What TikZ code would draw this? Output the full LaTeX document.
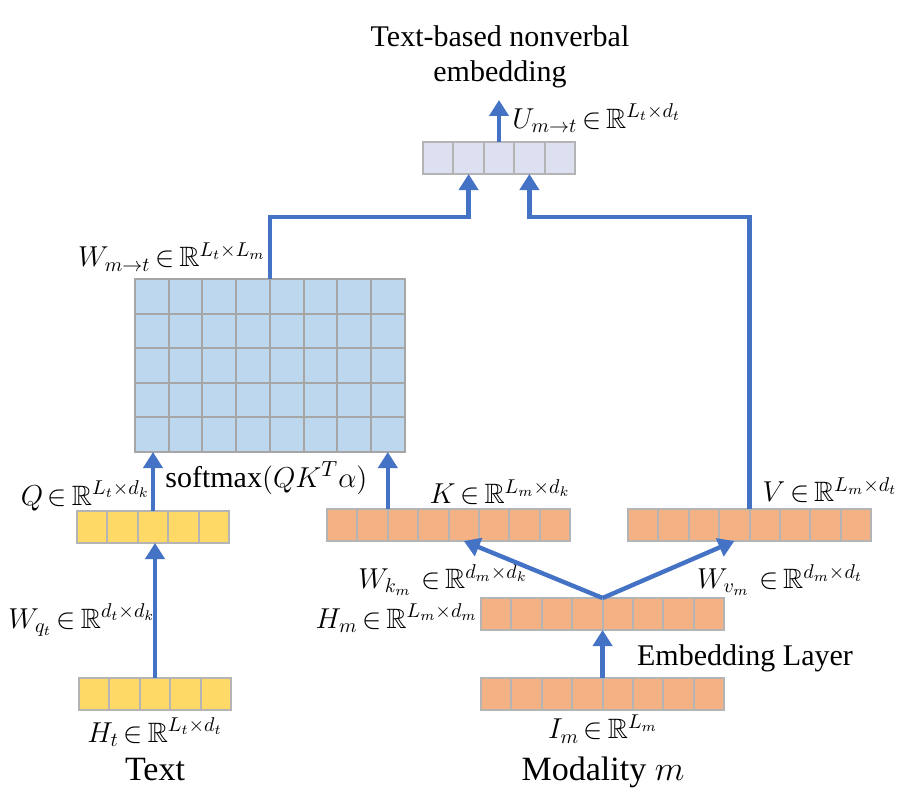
\documentclass[tikz,border=0pt]{standalone}
\usepackage{amsmath,amssymb}
\usepackage{fontspec}
\setmainfont{Liberation Serif}
\usetikzlibrary{arrows.meta,positioning}

\definecolor{flowblue}{RGB}{68,114,196}
\definecolor{qyellow}{RGB}{255,217,102}
\definecolor{korange}{RGB}{244,177,131}
\definecolor{attblue}{RGB}{189,215,238}
\definecolor{ulav}{RGB}{220,224,240}
\definecolor{cellgray}{RGB}{180,180,180}
\AtBeginDocument{\thickmuskip=3mu plus 1mu\relax}

\begin{document}
\begin{tikzpicture}[x=0.5pt, y=-0.5pt,
	cell/.style={draw=cellgray, line width=1pt, minimum width=15.2pt, minimum height=16pt, inner sep=0pt, outer sep=0pt},
	mcell/.style={cell, fill=attblue, minimum width=16.9pt, minimum height=17.3pt, draw=gray!70},
	flow/.style={draw=flowblue, line width=2.2pt, -{Triangle[length=8pt,width=9.5pt]}},
	lbl/.style={font=\fontsize{15}{17.5}\selectfont, inner sep=0pt},
	mlbl/.style={font=\fontsize{14}{17}\selectfont, inner sep=0pt},
	big/.style={font=\fontsize{17}{20}\selectfont, inner sep=0pt}]
	\path[fill=white, use as bounding box] (0,0) rectangle (899,797);

	% rows of cells
	\foreach \i in {1,...,5} {
		\node[cell, fill=ulav] (u\i) at ({423+(\i-0.5)*30.4}, 158) {};
		\node[cell, fill=qyellow] (q\i) at ({77+(\i-0.5)*30.4}, 527) {};
		\node[cell, fill=qyellow] (ht\i) at ({79+(\i-0.5)*30.4}, 694) {};
	}
	\foreach \i in {1,...,8} {
		\node[cell, fill=korange] (k\i) at ({327+(\i-0.5)*30.4}, 525) {};
		\node[cell, fill=korange] (v\i) at ({628+(\i-0.5)*30.4}, 525) {};
		\node[cell, fill=korange] (hm\i) at ({481+(\i-0.5)*30.4}, 614) {};
		\node[cell, fill=korange] (im\i) at ({481+(\i-0.5)*30.4}, 694) {};
	}
	% attention matrix
	\foreach \r in {1,...,5}
		\foreach \c in {1,...,8}
			\node[mcell] (w\r\c) at ({135+(\c-0.5)*33.75}, {279+(\r-0.5)*34.6}) {};

	% labels
	\node[lbl, align=center] (title) at (500,57) {Text-based nonverbal\\embedding};
	\node[mlbl, anchor=west] (ulbl) at (512,118) {$U_{m\to t}\in\mathbb{R}^{L_t\times d_t}$};
	\node[mlbl, anchor=east] (wlbl) at (266,257) {$W_{m\to t}\in\mathbb{R}^{L_t\times L_m}$};
	\node[mlbl, anchor=east] (qlbl) at (150,496) {$Q\in\mathbb{R}^{L_t\times d_k}$};
	\node[lbl, anchor=west] (smax) at (165,478) {softmax$(QK^T\alpha)$};
	\node[mlbl] (klbl) at (500,492) {$K\in\mathbb{R}^{L_m\times d_k}$};
	\node[mlbl] (vlbl) at (830,490) {$V\in\mathbb{R}^{L_m\times d_t}$};
	\node[mlbl] (wklbl) at (443,580) {$W_{k_m}\;\in\mathbb{R}^{d_m\times d_k}$};
	\node[mlbl] (wvlbl) at (780,580) {$W_{v_m}\;\in\mathbb{R}^{d_m\times d_t}$};
	\node[mlbl, anchor=east] (hmlbl) at (478,618) {$H_m\in\mathbb{R}^{L_m\times d_m}$};
	\node[lbl] (emb) at (745,658) {Embedding Layer};
	\node[mlbl, anchor=west] (wqlbl) at (8,620) {$W_{q_t}\in\mathbb{R}^{d_t\times d_k}$};
	\node[mlbl] (htlbl) at (155,732) {$H_t\in\mathbb{R}^{L_t\times d_t}$};
	\node[mlbl] (imlbl) at (603,729) {$I_m\in\mathbb{R}^{L_m}$};
	\node[big] (text) at (155,770) {Text};
	\node[big] (modal) at (603,772) {Modality $m$};

	% connectors
	\coordinate (top) at (0,217);
	\coordinate[above=21pt of u3.north] (out);
	\draw[flow] (ht3.north) -- (ht3.north |- q3.south);
	\draw[flow] (q3.north) -- (q3.north |- w51.south);
	\draw[flow] (k2.north east) -- (k2.north east |- w58.south);
	\draw[flow] (w14.north east) |- (top -| u2.south) -- (u2.south);
	\draw[flow] (v4.north east) |- (top -| u4.south) -- (u4.south);
	\draw[flow] (u3.north) -- (out);
	\draw[flow] (im4.north east) -- (hm4.south east);
	\draw[flow] (hm4.north east) -- (k5.south);
	\draw[flow] (hm4.north east) -- (v4.south);
\end{tikzpicture}
\end{document}
